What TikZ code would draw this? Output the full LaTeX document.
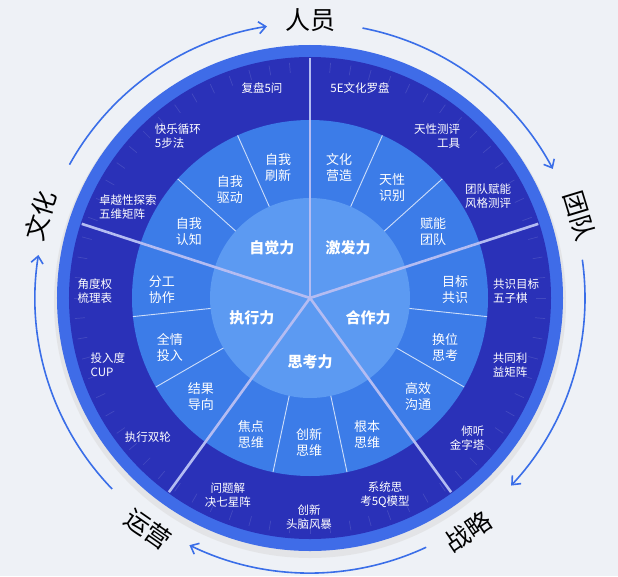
\documentclass[tikz,border=0pt]{standalone}
\usepackage{fontspec}
\setmainfont{Noto Sans CJK SC}
\usetikzlibrary{arrows.meta}
\definecolor{bg}{HTML}{EEF1F6}
\definecolor{rim}{HTML}{3F6CE8}
\definecolor{dark}{HTML}{2A31B8}
\definecolor{mid}{HTML}{3C7CE8}
\definecolor{core}{HTML}{5C9AF2}
\definecolor{arcc}{HTML}{3A6EE8}
\definecolor{sep}{HTML}{B4BCF2}
\tikzset{
 outer/.style={text=white,font=\fontsize{11.5}{14}\selectfont,align=center,inner sep=0pt},
 midl/.style={text=white,font=\fontsize{13}{16}\selectfont,align=center,inner sep=0pt},
 corel/.style={text=white,font=\bfseries\fontsize{15}{18}\selectfont,inner sep=0pt},
 big/.style={text=black,font=\fontsize{25}{28}\selectfont,inner sep=0pt},
 ring/.style={arcc,line width=1.6pt,-{Straight Barb[length=7pt,width=12pt]}},
 seg/.style={sep,line width=2.6pt},
 thin/.style={white!75!mid,line width=0.9pt}
}
\begin{document}
\begin{tikzpicture}[x=1pt,y=1pt]
\useasboundingbox (-310,-278) rectangle (308,298);
\fill[bg] (-310,-278) rectangle (308,298);
\coordinate (O) at (0,0);
% disks
\fill[black!15,opacity=0.5] (0,-4) circle (256);
\fill[rim] (O) circle (253);
\fill[dark] (O) circle (241);
\foreach \a in {0,5,...,355}{\draw[white,opacity=0.12,line width=0.7pt] (\a:226) -- (\a:236);}
\fill[mid] (O) circle (178);
\fill[core] (O) circle (100);
% subdivision lines in middle ring
\foreach \a in {42,66,114,138,186,210,258,282,330,354}{
 \coordinate (s\a a) at (\a:100); \coordinate (s\a b) at (\a:178);
 \draw[thin] (s\a a) -- (s\a b);}
% sector lines
\foreach \a in {90,18,162,234,306}{
 \coordinate (e\a) at (\a:240);
 \draw[seg] (O) -- (e\a);}
% core
\node[corel] (c1) at (-38,50) {自觉力};
\node[corel] (c2) at (38,50) {激发力};
\node[corel] (c3) at (-58,-20) {执行力};
\node[corel] (c4) at (58,-20) {合作力};
\node[corel] (c5) at (0,-64) {思考力};
% middle
\node[midl] (m1) at (-32,130) {自我\\刷新};
\node[midl] (m2) at (29,130) {文化\\营造};
\node[midl] (m3) at (-80,108) {自我\\驱动};
\node[midl] (m4) at (82,110) {天性\\识别};
\node[midl] (m5) at (-121,66) {自我\\认知};
\node[midl] (m6) at (123,66) {赋能\\团队};
\node[midl] (m7) at (-148,8) {分工\\协作};
\node[midl] (m8) at (145,8) {目标\\共识};
\node[midl] (m9) at (-140,-49) {全情\\投入};
\node[midl] (m10) at (135,-49) {换位\\思考};
\node[midl] (m11) at (-109,-99) {结果\\导向};
\node[midl] (m12) at (108,-99) {高效\\沟通};
\node[midl] (m13) at (-59,-137) {焦点\\思维};
\node[midl] (m14) at (-1,-145) {创新\\思维};
\node[midl] (m15) at (57,-137) {根本\\思维};
% outer
\node[outer] (o1) at (-48,210) {复盘5问};
\node[outer] (o2) at (50,210) {5E文化罗盘};
\node[outer,align=left] (o3) at (-132,162) {快乐循环\\5步法};
\node[outer,align=right] (o4) at (127,162) {天性测评\\工具};
\node[outer,align=left] (o5) at (-182,91) {卓越性探索\\五维矩阵};
\node[outer,align=left] (o6) at (178,102) {团队赋能\\风格测评};
\node[outer,align=left] (o7) at (-215,7) {角度权\\梳理表};
\node[outer,align=left] (o8) at (206,7) {共识目标\\五子棋};
\node[outer,align=left] (o9) at (-202,-67) {投入度\\CUP};
\node[outer,align=left] (o10) at (200,-67) {共同利\\益矩阵};
\node[outer] (o11) at (-162,-139) {执行双轮};
\node[outer,align=right] (o12) at (157,-140) {倾听\\金字塔};
\node[outer] (o13) at (-82,-197) {问题解\\决七星阵};
\node[outer] (o14) at (-1,-219) {创新\\头脑风暴};
\node[outer] (o15) at (75,-197) {系统思\\考5Q模型};
% outer cycle labels
\node[big] (L1) at (90:278) {人员};
\node[big,rotate=-73] (L2) at (17:282) {团队};
\node[big,rotate=34] (L3) at (304:282) {战略};
\node[big,rotate=-35] (L4) at (235:282) {运营};
\node[big,rotate=73] (L5) at (163:282) {文化};
\draw[ring] (151:275) arc[start angle=151,end angle=99,radius=275];
\draw[ring] (79:275) arc[start angle=79,end angle=28,radius=275];
\draw[ring] (8:275) arc[start angle=8,end angle=-43,radius=275];
\draw[ring] (-65:275) arc[start angle=-65,end angle=-116,radius=275];
\draw[ring] (-136:275) arc[start angle=-136,end angle=-189,radius=275];
\end{tikzpicture}
\end{document}
